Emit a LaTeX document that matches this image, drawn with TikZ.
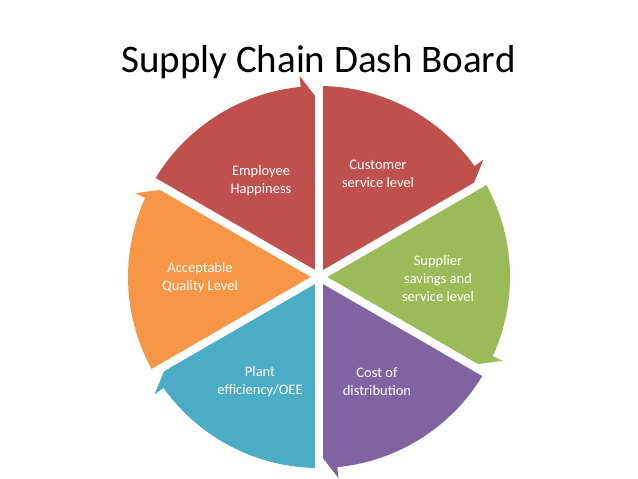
\documentclass[tikz,border=0pt]{standalone}
\usepackage{fontspec}
\setmainfont{Carlito}
\usetikzlibrary{calc}
\definecolor{cRed}{HTML}{C0504D}
\definecolor{cGreen}{HTML}{9BBB59}
\definecolor{cPurple}{HTML}{8064A2}
\definecolor{cBlue}{HTML}{4BACC6}
\definecolor{cOrange}{HTML}{F79646}
\newcommand\segwedge[3]{%
  \fill[#1] (C) -- ($(C)+(#2:191pt)$)
    arc[start angle=#2, end angle=#3+5.5, radius=191pt]
    -- ($(C)+(#3+5.5:202pt)$) -- ($(C)+(#3:176pt)$) -- cycle;}
\begin{document}
\begin{tikzpicture}[x=1pt,y=1pt,
  lbl/.style={text=white, align=center, font=\fontsize{14.5}{18}\selectfont, inner sep=0pt},
  gapline/.style={white, line width=8pt}]
\useasboundingbox (0,0) rectangle (638,479);
\coordinate (C) at (319,202);
\segwedge{cRed}{90}{30}
\segwedge{cGreen}{30}{-30}
\segwedge{cPurple}{-30}{-90}
\segwedge{cBlue}{-90}{-150}
\segwedge{cOrange}{210}{150}
\segwedge{cRed}{150}{90}
\foreach \a in {90,30,-30,-90,-150,150}
  \draw[gapline] (C) -- ($(C)+(\a:196pt)$);
\node[font=\fontsize{39}{47}\selectfont, anchor=base] (title) at (318.5,406) {Supply Chain Dash Board};
\node[lbl] (emp) at (261,298) {Employee\\Happiness};
\node[lbl] (cust) at (378,305) {Customer\\service level};
\node[lbl] (supp) at (438,200) {Supplier\\savings and\\service level};
\node[lbl] (cost) at (377,97) {Cost of\\distribution};
\node[lbl] (plant) at (260,97) {Plant\\efficiency/OEE};
\node[lbl] (acc) at (200,201) {Acceptable\\Quality Level};
\end{tikzpicture}
\end{document}
